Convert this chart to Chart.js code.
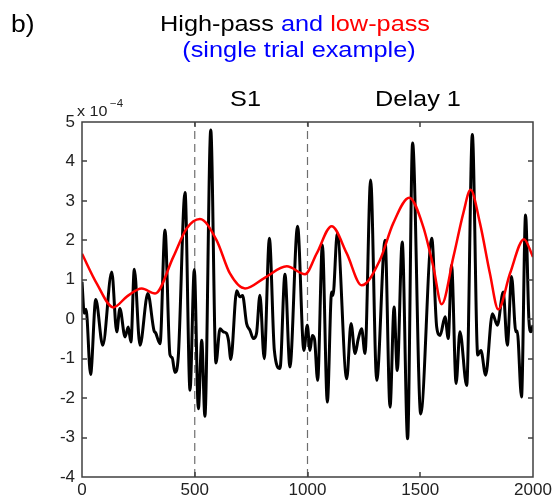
<!DOCTYPE html>
<html>
<head>
<meta charset="utf-8">
<script src="https://cdn.jsdelivr.net/npm/chart.js@4.4.0/dist/chart.umd.min.js"></script>
<style>
    html, body { margin: 0; padding: 0; background: #fff; }
    #wrap { width: 555px; height: 501px; }
</style>
</head>
<body>
<div id="wrap"><canvas id="trialChart" width="555" height="501"></canvas></div>
<script>
// high-pass trace (time in ms, amplitude in units of 1e-4)
const hpTime = [0, 10, 18, 38, 61, 92, 132, 154, 168, 191, 205, 217, 232, 257, 292, 319, 327, 346,
    368, 390, 400, 412, 427, 457, 479, 498, 516, 531, 545, 571, 594, 612, 627, 641, 650, 660,
    686, 700, 712, 730, 745, 760, 774, 789, 808, 831, 853, 878, 900, 922, 956, 984, 999,
    1011, 1021, 1031, 1045, 1066, 1088, 1107, 1113, 1132, 1174, 1193, 1211, 1225, 1240, 1255,
    1280, 1307, 1344, 1366, 1384, 1398, 1420, 1444, 1466, 1502, 1551, 1573, 1588, 1610, 1624,
    1639, 1659, 1676, 1706, 1731, 1755, 1769, 1790, 1820, 1842, 1868, 1886, 1905, 1924, 1930,
    1949, 1967, 1982, 1991, 2000];
const hpValue = [0.95, 0.15, 0.25, -1.40, 0.50, -0.66, 1.20, -0.32, 0.27, -0.45, -0.20, -0.58, 1.27, -0.66, 0.65, -0.28, -0.35, -0.62,
    2.26, -0.90, -0.98, -1.35, -0.95, 3.21, -1.80, 1.26, -2.27, -0.53, -2.46, 4.80, -1.11, -0.24, -0.32, -0.36, -0.55, -1.02,
    0.72, 0.57, 0.60, -0.11, -0.28, -0.49, -0.36, 0.61, -1.00, 2.05, -0.79, -1.25, 1.14, -1.21, 2.36, -0.79, -0.15,
    -0.79, -0.41, -0.50, -1.55, 1.88, -2.10, 0.69, 0.60, 2.18, -1.51, -0.11, -0.87, -0.50, -0.24, -0.87,
    3.53, -1.55, 2.00, -2.23, 0.31, -1.30, 1.96, -3.03, 4.47, -2.40, 2.05, -0.20, -0.41, 0.06, -0.49,
    1.37, -1.63, -0.32, -1.68, 4.68, -0.91, -0.79, -1.42, 0.14, -0.15, 0.69, -0.66, 1.08, -0.32, -0.30,
    -1.97, 2.64, -0.03, -0.32, -0.15];

// low-pass trace
const lpTime = [0, 65, 139, 200, 265, 324, 405, 464, 523, 597, 656, 723, 810, 908, 989, 1041, 1107, 1174,
    1240, 1321, 1380, 1451, 1513, 1558, 1595, 1647, 1691, 1723, 1765, 1809, 1846, 1898, 1960, 2000];
const lpValue = [1.66, 0.91, 0.30, 0.58, 0.78, 0.65, 1.58, 2.30, 2.54, 2.00, 1.16, 0.78, 1.05, 1.34, 1.14, 1.67, 2.36, 1.67,
    0.86, 1.50, 2.43, 3.08, 2.35, 1.33, 0.38, 1.58, 2.69, 3.28, 2.43, 1.16, 0.25, 1.16, 2.03, 1.58];

// epoch boundaries and labels
const epochBounds = [500, 1000];
const epochLabels = [{ text: 'S1', at: 725 }, { text: 'Delay 1', at: 1490 }];

const xTicks = [0, 500, 1000, 1500, 2000];
const yMin = -4, yMax = 5;

const FONT = '"Liberation Sans", Arial, sans-serif';
const STRETCH = 1.15; // text in the figure is a bit wide

function toPoints(xs, ys) {
    return xs.map((x, i) => ({ x: x, y: ys[i] }));
}

// text with horizontal stretch, x is where the alignment point goes
function wideText(ctx, text, x, y, align) {
    const w = ctx.measureText(text).width * STRETCH;
    let left = x;
    if (align === 'center') left = x - w / 2;
    ctx.save();
    ctx.translate(left, y);
    ctx.scale(STRETCH, 1);
    ctx.textAlign = 'left';
    ctx.fillText(text, 0, 0);
    ctx.restore();
    return w;
}

const dashedSets = epochBounds.map(b => ({
    data: [{ x: b, y: yMin }, { x: b, y: yMax }],
    borderColor: 'rgb(110, 110, 110)',
    borderWidth: 1.2,
    borderDash: [8, 5],
    pointRadius: 0,
    tension: 0,
    order: 3
}));

// box, inward ticks and all the texts
const decoPlugin = {
    id: 'deco',
    afterDraw(chart) {
        const ctx = chart.ctx;
        const a = chart.chartArea;
        const xs = chart.scales.x, ys = chart.scales.y;
        ctx.save();
        ctx.setLineDash([]);
        ctx.globalAlpha = 1;
        ctx.strokeStyle = '#404040';
        ctx.lineWidth = 1.5;
        const L = Math.round(a.left), R = Math.round(a.right), T = Math.round(a.top), B = Math.round(a.bottom);
        ctx.beginPath();
        ctx.moveTo(L, T); ctx.lineTo(R, T); ctx.lineTo(R, B); ctx.lineTo(L, B); ctx.closePath();
        xTicks.forEach(v => {
            const px = Math.round(xs.getPixelForValue(v));
            ctx.moveTo(px, B); ctx.lineTo(px, B - 5);
            ctx.moveTo(px, T); ctx.lineTo(px, T + 5);
        });
        for (let v = yMin; v <= yMax; v++) {
            const py = Math.round(ys.getPixelForValue(v));
            ctx.moveTo(L, py); ctx.lineTo(L + 5, py);
            ctx.moveTo(R, py); ctx.lineTo(R - 5, py);
        }
        ctx.stroke();

        ctx.fillStyle = '#000';
        ctx.textBaseline = 'alphabetic';
        ctx.font = '22px ' + FONT;
        epochLabels.forEach(l => {
            wideText(ctx, l.text, xs.getPixelForValue(l.at), 106, 'center');
        });

        // exponent
        ctx.fillStyle = '#222';
        ctx.font = '14px ' + FONT;
        wideText(ctx, 'x 10', 77, 116, 'left');
        ctx.font = '10px ' + FONT;
        wideText(ctx, '\u22124', 110, 107, 'left');

        // panel letter and title
        ctx.fillStyle = '#000';
        ctx.font = '23px ' + FONT;
        wideText(ctx, 'b)', 11, 32, 'left');

        ctx.font = '22px ' + FONT;
        const parts = [['High-pass ', '#000'], ['and ', '#0000ff'], ['low-pass', '#ff0000']];
        const total = parts.reduce((s, p) => s + ctx.measureText(p[0]).width * STRETCH, 0);
        let x = 295 - total / 2;
        parts.forEach(p => {
            ctx.fillStyle = p[1];
            x += wideText(ctx, p[0], x, 31, 'left');
        });
        ctx.fillStyle = '#0000ff';
        wideText(ctx, '(single trial example)', 299, 57, 'center');
        ctx.restore();
    }
};

new Chart(document.getElementById('trialChart'), {
    type: 'line',
    data: {
        datasets: [
            {
                label: 'high-pass',
                data: toPoints(hpTime, hpValue),
                borderColor: '#000',
                borderWidth: 3,
                pointRadius: 0,
                cubicInterpolationMode: 'monotone',
                order: 2
            },
            {
                label: 'low-pass',
                data: toPoints(lpTime, lpValue),
                borderColor: '#ff0000',
                borderWidth: 2.5,
                pointRadius: 0,
                cubicInterpolationMode: 'monotone',
                order: 1
            },
            ...dashedSets
        ]
    },
    options: {
        responsive: false,
        animation: false,
        layout: { padding: { top: 122, right: 22, left: 0, bottom: 0 } },
        plugins: {
            legend: { display: false },
            tooltip: { enabled: false }
        },
        scales: {
            x: {
                type: 'linear',
                min: 0,
                max: 2000,
                afterBuildTicks: s => { s.ticks = xTicks.map(v => ({ value: v })); },
                afterFit: s => { s.height = 24; },
                grid: { display: false, drawTicks: false },
                border: { display: false },
                ticks: {
                    padding: 3,
                    maxRotation: 0,
                    color: '#222',
                    font: { family: FONT, size: 17 },
                    callback: v => String(v)
                }
            },
            y: {
                min: yMin,
                max: yMax,
                afterFit: s => { s.width = 82; },
                grid: { display: false, drawTicks: false },
                border: { display: false },
                ticks: {
                    stepSize: 1,
                    padding: 7,
                    color: '#222',
                    font: { family: FONT, size: 17 }
                }
            }
        }
    },
    plugins: [decoPlugin]
});
</script>
</body>
</html>
